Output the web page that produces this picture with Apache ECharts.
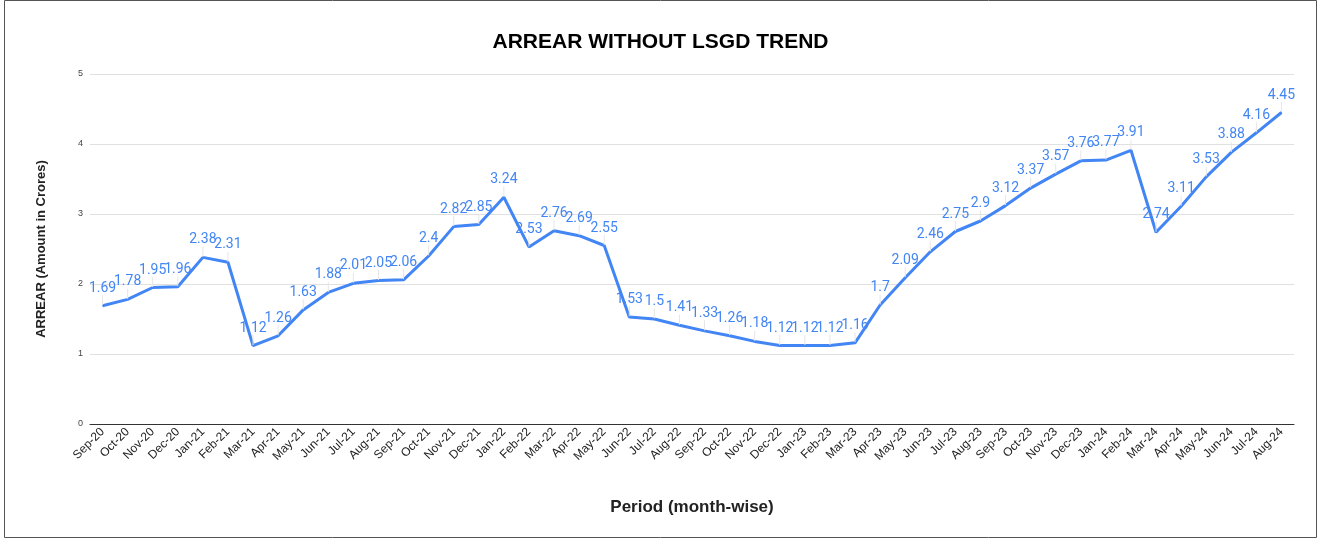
<!DOCTYPE html>
<html>
<head>
<meta charset="utf-8">
<script src="https://cdn.jsdelivr.net/npm/echarts@6/dist/echarts.min.js"></script>
<style>
  html, body { margin: 0; padding: 0; background: #fff; }
  #chart { width: 1321px; height: 541px; }
</style>
</head>
<body>
<div id="chart"></div>
<script>
// 月份
const months = [
  "Sep-20", "Oct-20", "Nov-20", "Dec-20", "Jan-21", "Feb-21", "Mar-21", "Apr-21",
  "May-21", "Jun-21", "Jul-21", "Aug-21", "Sep-21", "Oct-21", "Nov-21", "Dec-21",
  "Jan-22", "Feb-22", "Mar-22", "Apr-22", "May-22", "Jun-22", "Jul-22", "Aug-22",
  "Sep-22", "Oct-22", "Nov-22", "Dec-22", "Jan-23", "Feb-23", "Mar-23", "Apr-23",
  "May-23", "Jun-23", "Jul-23", "Aug-23", "Sep-23", "Oct-23", "Nov-23", "Dec-23",
  "Jan-24", "Feb-24", "Mar-24", "Apr-24", "May-24", "Jun-24", "Jul-24", "Aug-24"
];
// 欠款 (Crores)
const arrear = [
  1.69, 1.78, 1.95, 1.96, 2.38, 2.31, 1.12, 1.26,
  1.63, 1.88, 2.01, 2.05, 2.06, 2.4, 2.82, 2.85,
  3.24, 2.53, 2.76, 2.69, 2.55, 1.53, 1.5, 1.41,
  1.33, 1.26, 1.18, 1.12, 1.12, 1.12, 1.16, 1.7,
  2.09, 2.46, 2.75, 2.9, 3.12, 3.37, 3.57, 3.76,
  3.77, 3.91, 2.74, 3.11, 3.53, 3.88, 4.16, 4.45
];
// y轴刻度
const yTicks = [0, 1, 2, 3, 4, 5];

const chart = echarts.init(document.getElementById("chart"));
chart.setOption({
  backgroundColor: "#fff",
  animation: false,
  title: {
    text: "ARREAR WITHOUT LSGD TREND",
    left: "center",
    top: 27,
    textStyle: { fontFamily: "Liberation Sans", fontSize: 21, fontWeight: "bold", color: "#000" }
  },
  graphic: [
    {
      type: "rect",
      shape: { x: 4.5, y: 0.5, width: 1312, height: 537 },
      style: { fill: "none", stroke: "#555", lineWidth: 1 },
      silent: true
    }
  ],
  grid: { left: 90, right: 27, top: 74, bottom: 117 },
  xAxis: {
    type: "category",
    data: months,
    boundaryGap: true,
    name: "Period (month-wise)",
    nameLocation: "middle",
    nameGap: 75,
    nameTextStyle: { fontFamily: "Liberation Sans", fontSize: 17, fontWeight: "bold", color: "#222" },
    axisLine: { show: true, lineStyle: { color: "#333", width: 1 } },
    axisTick: { show: false },
    axisLabel: {
      interval: 0,
      rotate: 45,
      margin: 6,
      fontFamily: "Liberation Sans",
      fontSize: 12,
      color: "#222"
    }
  },
  yAxis: {
    type: "value",
    min: 0,
    max: yTicks[yTicks.length - 1],
    interval: 1,
    name: "ARREAR (Amount in Crores)",
    nameLocation: "middle",
    nameGap: 42,
    nameTextStyle: { fontFamily: "Liberation Sans", fontSize: 13, fontWeight: "bold", color: "#222" },
    axisLine: { show: false },
    axisTick: { show: false },
    axisLabel: { fontFamily: "Liberation Sans", fontSize: 9, color: "#444", margin: 7 },
    splitLine: { lineStyle: { color: "#e0e0e0", width: 1 } }
  },
  series: [
    {
      type: "line",
      data: arrear,
      symbol: "circle",
      symbolSize: 1,
      showSymbol: true,
      lineStyle: { color: "#4285F4", width: 3 },
      itemStyle: { color: "#4285F4" },
      label: {
        show: true,
        position: "top",
        distance: 2,
        fontFamily: "Roboto",
        fontSize: 14,
        color: "#4285F4"
      },
      labelLayout: { dy: -8 },
      labelLine: { show: true, length2: 0, lineStyle: { color: "#e6e6e6", width: 1 } }
    }
  ]
});
</script>
</body>
</html>
